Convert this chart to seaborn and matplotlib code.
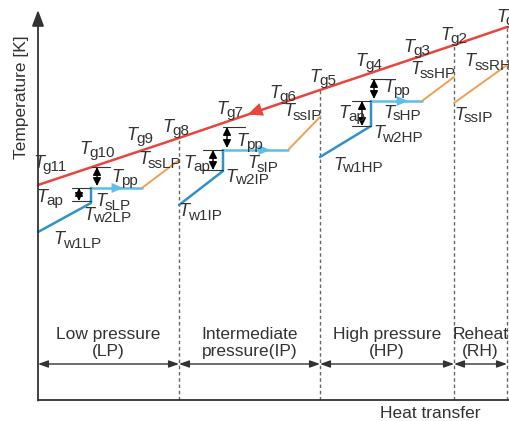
import matplotlib
matplotlib.use("Agg")
import matplotlib.pyplot as plt
import seaborn as sns
import pandas as pd

# heat transfer (Q) and temperature (T), arbitrary schematic units
gas_q = [0, 141, 282, 416, 469]
gas_t = [215, 262, 310, 355, 373]

lp_q = [0, 53, 53, 104, 141]
lp_t = [168, 197, 212, 212, 240]
ip_q = [141, 185, 185, 250, 282]
ip_t = [195, 229, 250, 250, 283]
hp_q = [282, 333, 333, 384, 416]
hp_t = [243, 274, 299, 299, 323]
rh_q = [416, 469]
rh_t = [297, 335]

section_edges = [0, 141, 282, 416, 469]
section_names = ["Low pressure\n(LP)", "Intermediate\npressure(IP)",
                 "High pressure\n(HP)", "Reheat\n(RH)"]

# pinch / approach markers: (x of arrow, T top, T bottom, tick x0, tick x1)
ap_marks = [(41, 212, 199, 34, 53), (175, 250, 230, 165, 185), (324, 299, 274, 314, 333)]
pp_marks = [(59, 233, 214, 54, 72), (189, 273, 252, 185, 207), (336, 321, 301, 333, 349)]
flow_arrows = [82, 229, 367]

labels = [
    ("g11", 12, 237), ("g10", 59, 250), ("g9", 102, 265), ("g8", 138, 273),
    ("g7", 192, 290), ("g6", 245, 307), ("g5", 285, 322), ("g4", 331, 339),
    ("g3", 379, 353), ("g2", 416, 365),
    ("pp", 87, 222), ("ap", 12, 203), ("sLP", 75, 198), ("w2LP", 69, 185),
    ("w1LP", 39, 160), ("ssLP", 122, 240),
    ("pp", 212, 258), ("ap", 159, 237), ("sIP", 225, 236), ("w2IP", 209, 223),
    ("w1IP", 162, 188), ("ssIP", 265, 288),
    ("pp", 359, 312), ("ap", 314, 287), ("sHP", 364, 287), ("w2HP", 360, 266),
    ("w1HP", 320, 235), ("ssHP", 395, 330), ("ssIP", 436, 285), ("ssRH", 450, 338),
]

RED = "#e8453c"
BLUE = "#2f92c9"
LBLUE = "#5cbfe8"
ORANGE = "#efa04e"
DARK = "#333333"

sns.set_theme(style="white")
plt.rcParams["font.family"] = ["Liberation Sans", "DejaVu Sans"]

fig = plt.figure(figsize=(5.09, 4.21), dpi=100)
ax = fig.add_axes([0, 0, 1, 1])
ax.set_xlim(-38, 471)
ax.set_ylim(-21, 400)
ax.axis("off")
renderer = fig.canvas.get_renderer()


def tlabel(sub, q, t, align="center"):
    # italic T followed by a slightly smaller, slightly lowered subscript
    big = ax.text(q, t, "T", style="italic", fontsize=13, color=DARK, ha="left", va="center")
    small = ax.text(q, t - 3.5, sub, fontsize=11, color=DARK, ha="left", va="center")
    wb = big.get_window_extent(renderer).width - 1.5
    ws = small.get_window_extent(renderer).width
    x0 = q - (wb + ws) / 2 if align == "center" else q
    big.set_x(x0)
    small.set_x(x0 + wb)


# section boundaries
for q, t in zip(section_edges[1:], gas_t[1:]):
    ax.plot([q, q], [0, t], color="#666666", lw=1.0, ls=(0, (2.5, 2)))

# gas line
sns.lineplot(x=gas_q, y=gas_t, ax=ax, color=RED, lw=1.8, sort=False, estimator=None)
ax.annotate("", xy=(207, 284.5), xytext=(222, 290),
            arrowprops=dict(arrowstyle="-|>,head_length=0.9,head_width=0.4",
                            color=RED, lw=0))

# water / steam lines
for q, t in [(lp_q, lp_t), (ip_q, ip_t), (hp_q, hp_t)]:
    eco = pd.DataFrame({"q": q[:3], "t": t[:3]})
    sns.lineplot(data=eco, x="q", y="t", ax=ax, color=BLUE, lw=1.8, sort=False, estimator=None)
    sns.lineplot(x=q[2:4], y=t[2:4], ax=ax, color=LBLUE, lw=1.8, sort=False, estimator=None)
    sns.lineplot(x=q[3:5], y=t[3:5], ax=ax, color=ORANGE, lw=1.4, sort=False, estimator=None)
sns.lineplot(x=rh_q, y=rh_t, ax=ax, color=ORANGE, lw=1.4, sort=False, estimator=None)

for q, t in zip(flow_arrows, [lp_t[2], ip_t[2], hp_t[2]]):
    ax.annotate("", xy=(q + 6, t), xytext=(q - 4, t),
                arrowprops=dict(arrowstyle="-|>,head_length=0.7,head_width=0.3",
                                color=LBLUE, lw=0))

# approach / pinch markers
dbl = dict(arrowstyle="<|-|>,head_length=0.4,head_width=0.2", color="black", lw=1.0,
           shrinkA=0, shrinkB=0)
for x, t0, t1, x0, x1 in ap_marks:
    ax.plot([x0, x1], [t0, t0], color=DARK, lw=0.8)
    ax.plot([x0, x1], [t1, t1], color=DARK, lw=0.8)
    ax.annotate("", xy=(x, t0), xytext=(x, t1), arrowprops=dbl)
for x, t0, t1, x0, x1 in pp_marks:
    ax.plot([x0, x1], [t0, t0], color=DARK, lw=0.8)
    ax.annotate("", xy=(x, t0), xytext=(x, t1), arrowprops=dbl)

# axes
ax.plot([0, 471], [0, 0], color=DARK, lw=1.3)
ax.annotate("", xy=(0, 390), xytext=(0, -0.6),
            arrowprops=dict(arrowstyle="-|>,head_length=0.8,head_width=0.3",
                            color=DARK, lw=1.3, shrinkA=0, shrinkB=0))
ax.text(-16, 303, "Temperature [K]", rotation=90, ha="center", va="center",
        fontsize=12.5, color=DARK)
ax.text(392, -13, "Heat transfer", ha="center", va="center", fontsize=12.5, color=DARK)

# section arrows and names
for a, b, name in zip(section_edges[:-1], section_edges[1:], section_names):
    ax.annotate("", xy=(a, 36), xytext=(b, 36),
                arrowprops=dict(arrowstyle="<|-|>,head_length=0.5,head_width=0.18",
                                color=DARK, lw=1.0, shrinkA=0, shrinkB=0))
    ax.text((a + b) / 2, 57, name, ha="center", va="center", fontsize=12.5,
            color=DARK, linespacing=1.1)

for sub, q, t in labels:
    tlabel(sub, q, t)
tlabel("g1", 458, 383, align="left")

fig.savefig("out.png", dpi=100)
